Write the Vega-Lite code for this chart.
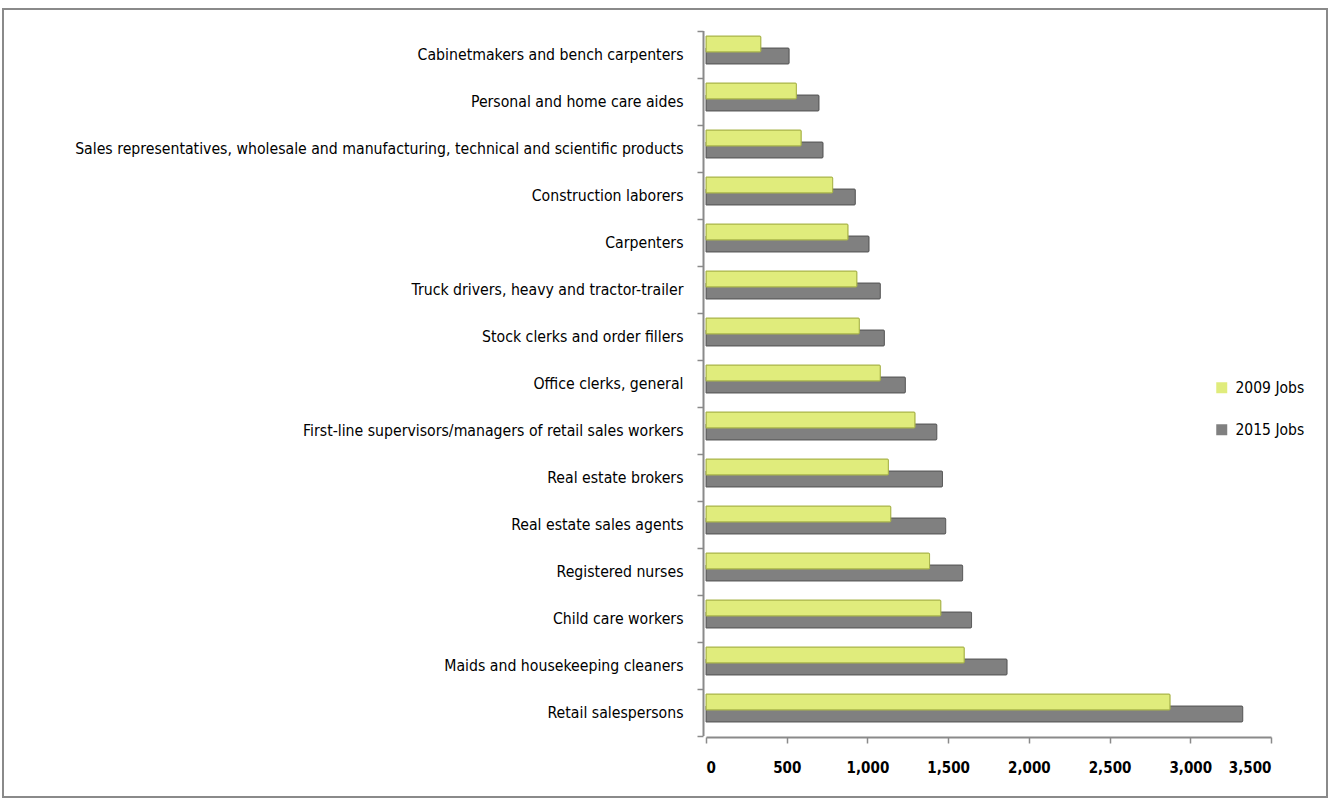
{
  "$schema": "https://vega.github.io/schema/vega-lite/v6.json",
  "width": 1324,
  "height": 788,
  "autosize": {"type": "none"},
  "padding": {"left": 3, "top": 9, "right": 4, "bottom": 5},
  "background": "white",
  "config": {
    "view": {"stroke": "#8a8a8a", "strokeWidth": 2},
    "font": "DejaVu Sans Condensed, Roboto Condensed, sans-serif"
  },
  "data": {
    "values": [
      {"occ": "Cabinetmakers and bench carpenters", "series": "2009 Jobs", "jobs": 340},
      {"occ": "Cabinetmakers and bench carpenters", "series": "2015 Jobs", "jobs": 515},
      {"occ": "Personal and home care aides", "series": "2009 Jobs", "jobs": 560},
      {"occ": "Personal and home care aides", "series": "2015 Jobs", "jobs": 700},
      {"occ": "Sales representatives, wholesale and manufacturing, technical and scientific products", "series": "2009 Jobs", "jobs": 590},
      {"occ": "Sales representatives, wholesale and manufacturing, technical and scientific products", "series": "2015 Jobs", "jobs": 725},
      {"occ": "Construction laborers", "series": "2009 Jobs", "jobs": 785},
      {"occ": "Construction laborers", "series": "2015 Jobs", "jobs": 925},
      {"occ": "Carpenters", "series": "2009 Jobs", "jobs": 880},
      {"occ": "Carpenters", "series": "2015 Jobs", "jobs": 1010},
      {"occ": "Truck drivers, heavy and tractor-trailer", "series": "2009 Jobs", "jobs": 935},
      {"occ": "Truck drivers, heavy and tractor-trailer", "series": "2015 Jobs", "jobs": 1080},
      {"occ": "Stock clerks and order fillers", "series": "2009 Jobs", "jobs": 950},
      {"occ": "Stock clerks and order fillers", "series": "2015 Jobs", "jobs": 1105},
      {"occ": "Office clerks, general", "series": "2009 Jobs", "jobs": 1080},
      {"occ": "Office clerks, general", "series": "2015 Jobs", "jobs": 1235},
      {"occ": "First-line supervisors/managers of retail sales workers", "series": "2009 Jobs", "jobs": 1295},
      {"occ": "First-line supervisors/managers of retail sales workers", "series": "2015 Jobs", "jobs": 1430},
      {"occ": "Real estate brokers", "series": "2009 Jobs", "jobs": 1130},
      {"occ": "Real estate brokers", "series": "2015 Jobs", "jobs": 1465},
      {"occ": "Real estate sales agents", "series": "2009 Jobs", "jobs": 1145},
      {"occ": "Real estate sales agents", "series": "2015 Jobs", "jobs": 1485},
      {"occ": "Registered nurses", "series": "2009 Jobs", "jobs": 1385},
      {"occ": "Registered nurses", "series": "2015 Jobs", "jobs": 1590},
      {"occ": "Child care workers", "series": "2009 Jobs", "jobs": 1455},
      {"occ": "Child care workers", "series": "2015 Jobs", "jobs": 1645},
      {"occ": "Maids and housekeeping cleaners", "series": "2009 Jobs", "jobs": 1600},
      {"occ": "Maids and housekeeping cleaners", "series": "2015 Jobs", "jobs": 1865},
      {"occ": "Retail salespersons", "series": "2009 Jobs", "jobs": 2875},
      {"occ": "Retail salespersons", "series": "2015 Jobs", "jobs": 3325}
    ]
  },
  "encoding": {
    "y": {
      "field": "occ",
      "type": "nominal",
      "sort": null,
      "scale": {"range": [21.5, 726.5], "paddingInner": 0, "paddingOuter": 0},
      "axis": {
        "title": null,
        "offset": -700,
        "tickBand": "extent",
        "domainColor": "#8a8a8a",
        "domainWidth": 2,
        "tickColor": "#8a8a8a",
        "tickWidth": 1.5,
        "tickSize": 6,
        "labelFontSize": 15.7,
        "labelColor": "#000000",
        "labelPadding": 14,
        "labelLimit": 0
      }
    },
    "x": {
      "field": "jobs",
      "type": "quantitative",
      "scale": {"domain": [0, 3500], "range": [703, 1268], "nice": false},
      "axis": {
        "title": null,
        "offset": -60,
        "values": [0, 500, 1000, 1500, 2000, 2500, 3000, 3500],
        "format": ",d",
        "grid": false,
        "domainColor": "#8a8a8a",
        "domainWidth": 2,
        "tickColor": "#8a8a8a",
        "tickWidth": 1.5,
        "tickSize": 6,
        "labelFontSize": 15,
        "labelFontWeight": "bold",
        "labelColor": "#000000",
        "labelPadding": 17
      }
    },
    "color": {
      "field": "series",
      "type": "nominal",
      "scale": {"domain": ["2009 Jobs", "2015 Jobs"], "range": ["#e0ec7c", "#808080"]},
      "legend": {
        "title": null,
        "orient": "none",
        "legendX": 1211,
        "legendY": 371,
        "symbolType": "square",
        "symbolSize": 121,
        "symbolStrokeWidth": 0,
        "labelFontSize": 15.5,
        "labelColor": "#000000",
        "rowPadding": 25,
        "labelOffset": 6
      }
    }
  },
  "layer": [
    {
      "transform": [{"filter": "datum.series === '2015 Jobs'"}],
      "mark": {"type": "bar", "height": 16, "yOffset": 2, "stroke": "#5e5e5e", "strokeWidth": 1, "cornerRadiusEnd": 1}
    },
    {
      "transform": [{"filter": "datum.series === '2009 Jobs'"}],
      "mark": {"type": "bar", "height": 16, "yOffset": -10, "stroke": "#a9b44a", "strokeWidth": 1, "cornerRadiusEnd": 1}
    }
  ]
}
